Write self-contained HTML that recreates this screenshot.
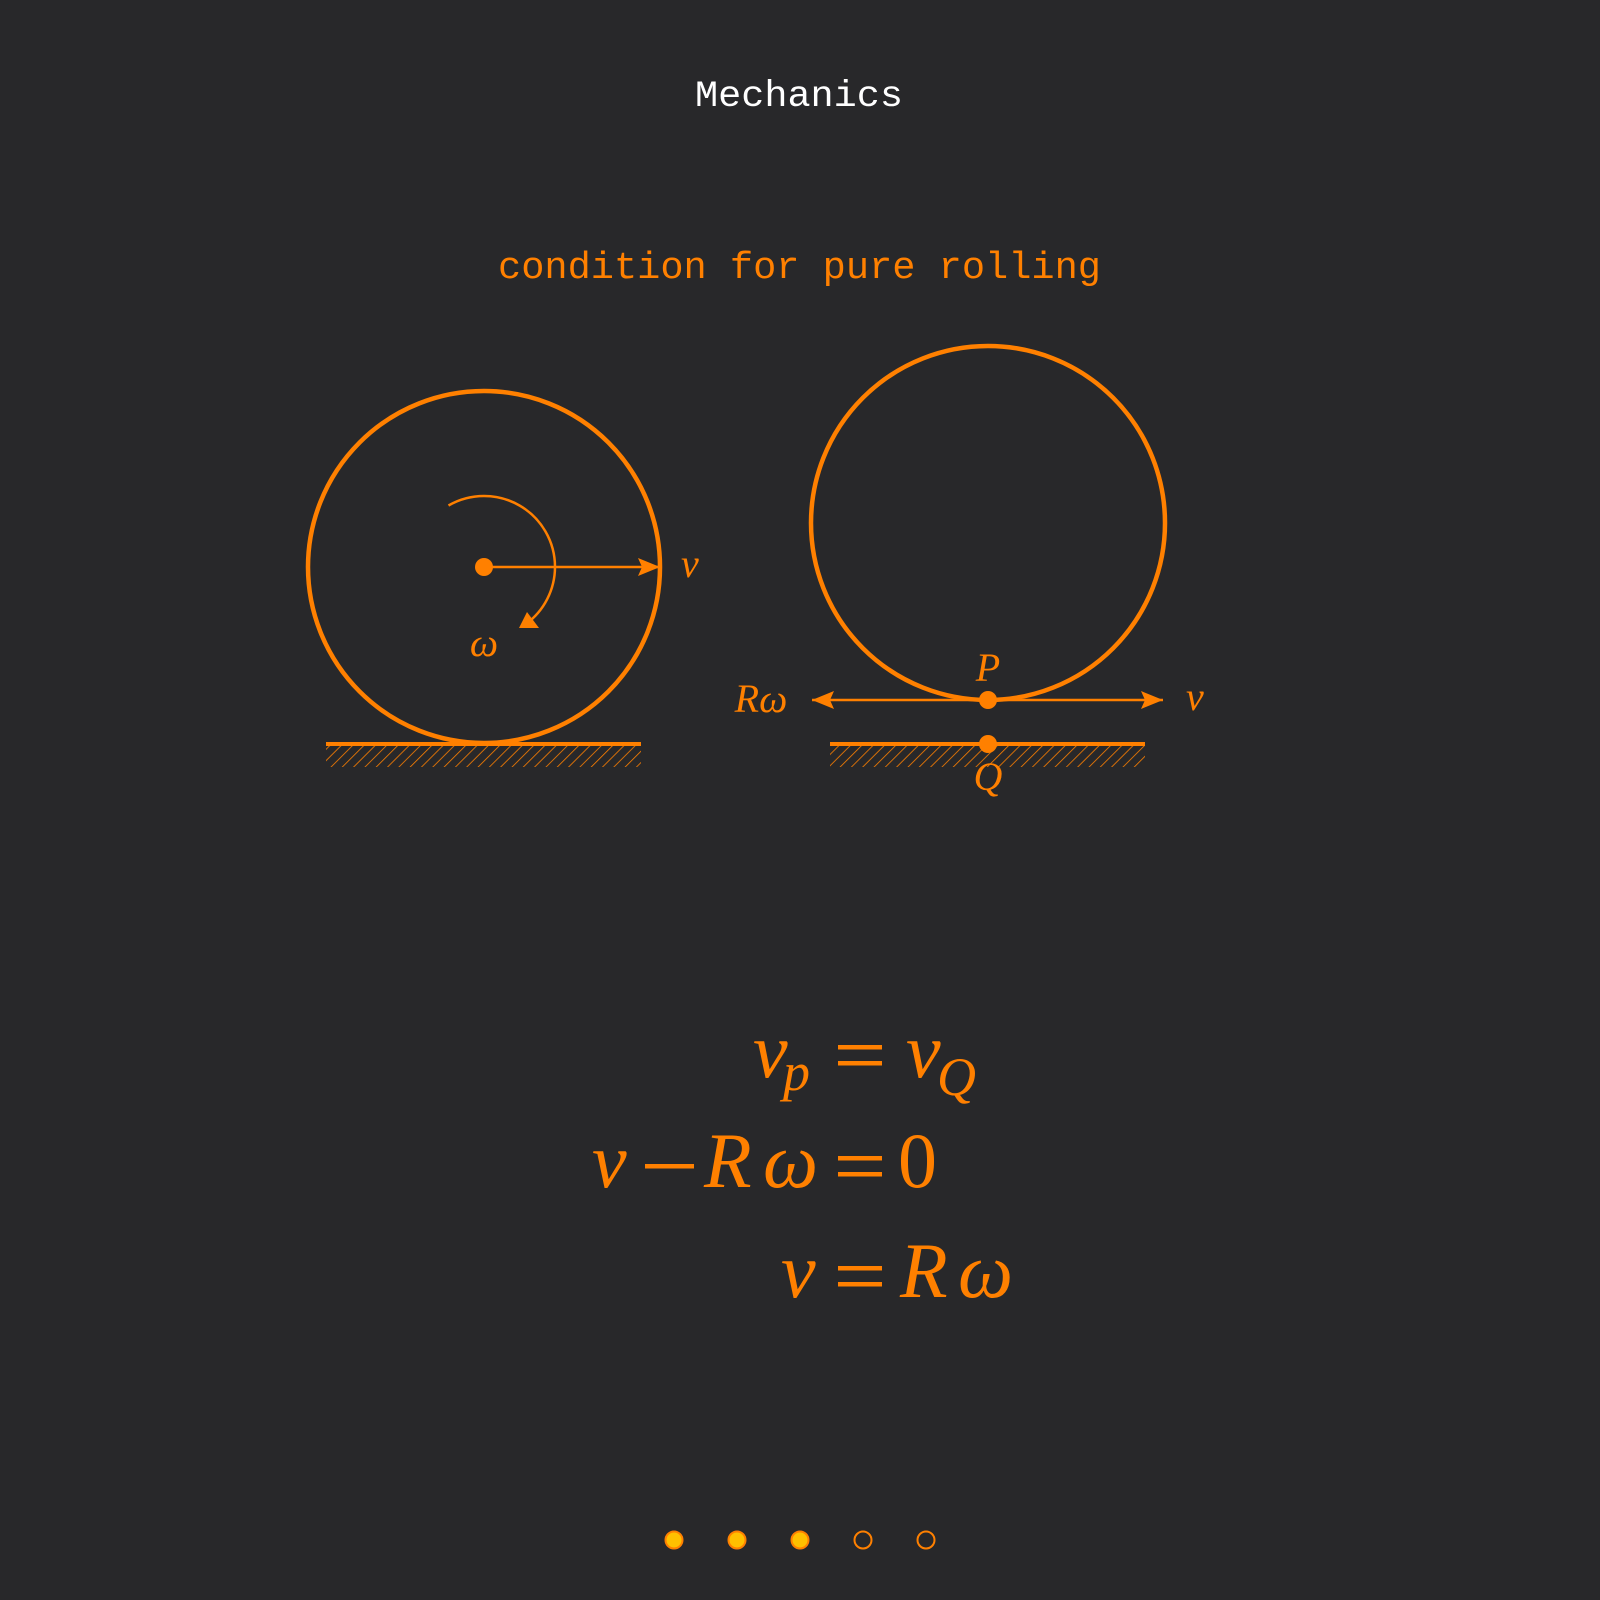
<!DOCTYPE html>
<html><head><meta charset="utf-8"><style>
html,body{margin:0;padding:0;background:#28282a;}
svg{display:block}
.m{font-family:"Liberation Serif",serif;font-style:italic;fill:#ff8000}
</style></head><body>
<svg width="1600" height="1600" viewBox="0 0 1600 1600">
<defs>
<pattern id="hatch" patternUnits="userSpaceOnUse" width="8" height="8" patternTransform="rotate(45)">
<line x1="0" y1="0" x2="0" y2="8" stroke="#ff8000" stroke-width="1.6"/>
</pattern>
</defs>
<rect width="1600" height="1600" fill="#28282a"/>
<text x="695" y="106" textLength="208" lengthAdjust="spacingAndGlyphs" font-family="Liberation Mono, monospace" font-size="37" fill="#ffffff">Mechanics</text>
<text x="498" y="278" textLength="603" lengthAdjust="spacingAndGlyphs" font-family="Liberation Mono, monospace" font-size="38" fill="#ff8000">condition for pure rolling</text>

<g>
<circle cx="484" cy="567" r="176" fill="none" stroke="#ff8000" stroke-width="4.5"/>
<rect x="326" y="746" width="315" height="21" fill="url(#hatch)"/>
<line x1="326" y1="744" x2="641" y2="744" stroke="#ff8000" stroke-width="4"/>
<circle cx="484" cy="567" r="9" fill="#ff8000"/>
<line x1="484" y1="567" x2="660" y2="567" stroke="#ff8000" stroke-width="2.5"/>
<path d="M638,558 L660,567 L638,576 L642,567z" fill="#ff8000"/>
<text class="m" x="681" y="577" font-size="40">v</text>
<path d="M448.5,505.5 A71,71 0 0 1 555,567 A71,71 0 0 1 526,624" fill="none" stroke="#ff8000" stroke-width="2.5"/>
<path d="M527,612 L539,628 L519,628 z" fill="#ff8000"/>
<text class="m" x="484" y="656" text-anchor="middle" font-size="40">ω</text>
</g>

<g>
<circle cx="988" cy="523" r="177" fill="none" stroke="#ff8000" stroke-width="4.5"/>
<rect x="830" y="746" width="315" height="21" fill="url(#hatch)"/>
<line x1="830" y1="744" x2="1145" y2="744" stroke="#ff8000" stroke-width="4"/>
<line x1="988" y1="700" x2="1163" y2="700" stroke="#ff8000" stroke-width="2.5"/>
<path d="M1141,691 L1163,700 L1141,709 L1145,700z" fill="#ff8000"/>
<line x1="988" y1="700" x2="812" y2="700" stroke="#ff8000" stroke-width="2.5"/>
<path d="M834,691 L812,700 L834,709 L830,700z" fill="#ff8000"/>
<circle cx="988" cy="700" r="9" fill="#ff8000"/>
<circle cx="988" cy="744" r="9" fill="#ff8000"/>
<text class="m" x="988" y="681" text-anchor="middle" font-size="40">P</text>
<text class="m" x="988" y="790" text-anchor="middle" font-size="40">Q</text>
<text class="m" x="761" y="712" text-anchor="middle" font-size="40">Rω</text>
<text class="m" x="1186" y="710" font-size="40">v</text>
</g>

<g fill="#ff8000">
<g>
<text class="m" x="753" y="1077" font-size="78">v</text>
<text class="m" x="783" y="1090" font-size="54">p</text>
<rect x="838" y="1045" width="44" height="4.5"/><rect x="838" y="1061" width="44" height="4.5"/>
<text class="m" x="906" y="1077" font-size="78">v</text>
<text class="m" x="937" y="1095" font-size="54">Q</text>
</g>
<g>
<text class="m" x="592" y="1187" font-size="78">v</text>
<rect x="645" y="1164" width="49" height="4.5"/>
<text class="m" x="704" y="1187" font-size="78">R</text>
<text class="m" x="763" y="1187" font-size="78">ω</text>
<rect x="838" y="1156" width="44" height="4.5"/><rect x="838" y="1172" width="44" height="4.5"/>
<text x="898" y="1187" font-size="78" font-family="Liberation Serif, serif" fill="#ff8000">0</text>
</g>
<g>
<text class="m" x="781" y="1297" font-size="78">v</text>
<rect x="838" y="1266" width="44" height="4.5"/><rect x="838" y="1282" width="44" height="4.5"/>
<text class="m" x="900" y="1297" font-size="78">R</text>
<text class="m" x="958" y="1297" font-size="78">ω</text>
</g>
</g>

<g>
<circle cx="674" cy="1540" r="8.5" fill="#ffc000" stroke="#ff8000" stroke-width="2"/>
<circle cx="737" cy="1540" r="8.5" fill="#ffc000" stroke="#ff8000" stroke-width="2"/>
<circle cx="800" cy="1540" r="8.5" fill="#ffc000" stroke="#ff8000" stroke-width="2"/>
<circle cx="863" cy="1540" r="8.5" fill="none" stroke="#ff8000" stroke-width="2"/>
<circle cx="926" cy="1540" r="8.5" fill="none" stroke="#ff8000" stroke-width="2"/>
</g>
</svg>
</body></html>
